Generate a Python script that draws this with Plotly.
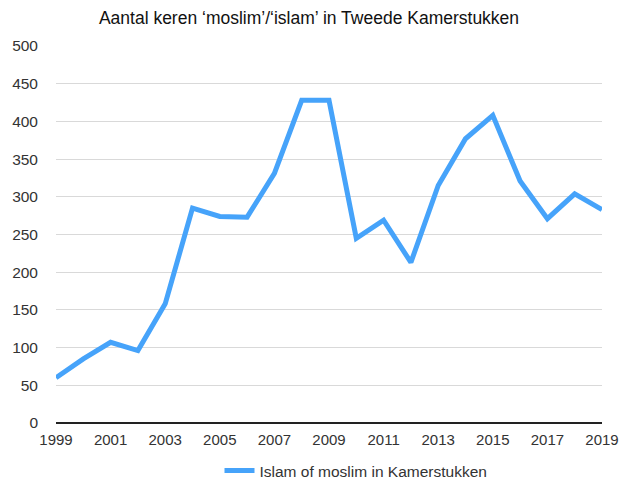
import plotly.graph_objects as go

years = list(range(1999, 2020))
counts = [60, 85, 107, 96, 158, 285, 274, 273, 331, 428, 428, 245, 269, 213, 315, 377, 408, 321, 271, 304, 283]
series_name = "Islam of moslim in Kamerstukken"
title_text = "Aantal keren \u2018moslim\u2019/\u2018islam\u2019 in Tweede Kamerstukken"
y_ticks = [0, 50, 100, 150, 200, 250, 300, 350, 400, 450, 500]
x_ticks = list(range(1999, 2020, 2))

W, H = 619, 485
L, R, T, B = 56, 17, 46, 62
PW = W - L - R

fig = go.Figure()
fig.add_trace(go.Scatter(
    x=years, y=counts, mode="lines", name=series_name,
    line=dict(color="rgb(70,163,250)", width=5), showlegend=True,
))

font_fam = "Liberation Sans, Arial, Helvetica, sans-serif"
fig.update_layout(
    width=W, height=H,
    margin=dict(l=L, r=R, t=T, b=B, autoexpand=False),
    paper_bgcolor="white", plot_bgcolor="white",
    title=dict(text=title_text, x=(309 - L) / PW, xref="paper", xanchor="center",
               y=1 - 18 / H, yref="container", yanchor="middle",
               font=dict(family=font_fam, size=17.5, color="#111")),
    font=dict(family=font_fam, size=15, color="#333"),
    xaxis=dict(range=[1999, 2019], tickvals=x_ticks, ticktext=[str(v) for v in x_ticks],
               showgrid=False, zeroline=False, showline=False, ticks="", automargin=False,
               ticklabelstandoff=6, tickfont=dict(size=15, color="#333")),
    yaxis=dict(range=[0, 500], tickvals=y_ticks, showgrid=True, gridcolor="#d9d9d9", gridwidth=1,
               zeroline=True, zerolinecolor="#222", zerolinewidth=2, showline=False, ticks="",
               automargin=False, ticklabelstandoff=17, tickfont=dict(size=15.5, color="#333")),
    legend=dict(orientation="h", x=(356 - L) / PW, xanchor="center", xref="paper",
                y=1 - 471 / H, yref="container", yanchor="middle",
                itemwidth=30, font=dict(size=15.5, color="#333")),
    showlegend=True,
)

fig.write_html("out.html", config={"displayModeBar": False},
               post_script="document.body.style.margin='0';document.body.style.overflow='hidden';")
